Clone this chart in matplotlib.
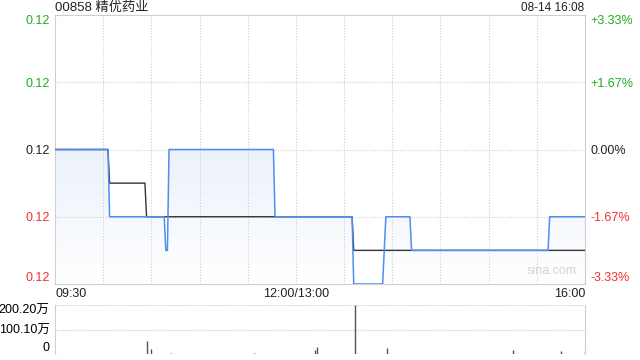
import numpy as np
import matplotlib
matplotlib.use('Agg')
import matplotlib.pyplot as plt
from matplotlib.colors import LinearSegmentedColormap

plt.rcParams['font.family'] = ['Liberation Sans', 'Noto Sans CJK SC', 'DejaVu Sans']

title = '00858 精优药业'
stamp = '08-14 16:08'
prev_close = 0.120

# price (blue) breakpoints: time, price
price_t = ['09:30', '10:03', '10:04', '10:38', '10:39', '10:40', '10:41', '11:46', '11:47',
           '13:35', '13:36', '13:54', '13:56', '14:11', '14:12', '15:37', '15:38', '16:00']
price_v = [0.120, 0.120, 0.118, 0.118, 0.117, 0.117, 0.120, 0.120, 0.118,
           0.118, 0.116, 0.116, 0.118, 0.118, 0.117, 0.117, 0.118, 0.118]

# average price (black) breakpoints
avg_t = ['09:30', '10:03', '10:04', '10:26', '10:27', '13:35', '13:36', '16:00']
avg_v = [0.120, 0.120, 0.119, 0.119, 0.118, 0.118, 0.117, 0.117]

# volume spikes (shares)
vol_t = ['10:27', '10:30', '10:42', '11:34', '13:12', '13:13', '13:37', '13:57', '15:15', '15:45', '16:00']
vol_v = [540000, 200000, 50000, 40000, 160000, 300000, 2002000, 240000, 160000, 120000, 120000]

y_ticks = [0.116, 0.118, 0.120, 0.122, 0.124]
pct_labels = ['-3.33%', '-1.67%', '0.00%', '+1.67%', '+3.33%']
vol_ticks = [0, 1001000, 2002000]
vol_labels = ['0', '100.10万', '200.20万']
x_labels = ['09:30', '12:00/13:00', '16:00']

GREEN = '#1fae1f'
RED = '#f53030'
BLUE = '#4f8ef0'
GRID = '#cfcfcf'
FS = 9


def tidx(s):
    h, m = map(int, s.split(':'))
    mins = h * 60 + m
    if mins <= 12 * 60:
        return mins - (9 * 60 + 30)
    return 150 + mins - 13 * 60


px = np.array([tidx(t) for t in price_t], float)
py = np.array(price_v)
ax_ = np.array([tidx(t) for t in avg_t], float)
vx = np.array([tidx(t) for t in vol_t], float)

fig = plt.figure(figsize=(6.4, 3.6), dpi=100)
ax = fig.add_axes([55 / 640, 1 - 284 / 360, 530 / 640, 269 / 360])
axv = fig.add_axes([55 / 640, 1 - 354 / 360, 530 / 640, 49 / 360])

ax.set_xlim(0, 330)
ax.set_ylim(0.116, 0.124)

# gradient fill under price line
cmap = LinearSegmentedColormap.from_list('g', ['#ffffff', '#d8e4f9'])
grad = np.linspace(0, 1, 256).reshape(-1, 1)
im = ax.imshow(grad, cmap=cmap, aspect='auto', origin='lower',
               extent=[0, 330, 0.116, 0.124], zorder=1)
poly = ax.fill_between(px, py, 0.116, color='none', lw=0)
im.set_clip_path(poly.get_paths()[0], transform=ax.transData)

ax.plot(px, py, color=BLUE, lw=1.1, zorder=4)
ax.plot(ax_, avg_v, color='#333333', lw=1.0, zorder=3)

# grid
for x in np.arange(30, 330, 30):
    ax.axvline(x, color=GRID, lw=0.8, ls=(0, (1, 1.5)), zorder=2)
for y in y_ticks[1:-1]:
    ax.axhline(y, color=GRID, lw=0.8, ls=(0, (1, 1.5)), zorder=2)

for sp in ax.spines.values():
    sp.set_color(GRID)
ax.tick_params(length=0, labelsize=FS, pad=4)
ax.set_yticks(y_ticks)
ax.set_yticklabels([f'{v:.2f}' for v in y_ticks])
colors = [RED, RED, '#222222', GREEN, GREEN]
for lab, c in zip(ax.get_yticklabels(), colors):
    lab.set_color(c)
ax.get_yticklabels()[0].set_va('bottom')
ax.get_yticklabels()[-1].set_va('top')
ax.set_xticks([])

axr = ax.twinx()
axr.set_ylim(0.116, 0.124)
axr.set_yticks(y_ticks)
axr.set_yticklabels(pct_labels)
axr.tick_params(length=0, labelsize=FS, pad=4)
for lab, c in zip(axr.get_yticklabels(), colors):
    lab.set_color(c)
axr.get_yticklabels()[0].set_va('bottom')
axr.get_yticklabels()[-1].set_va('top')
for sp in axr.spines.values():
    sp.set_visible(False)

# x labels under main panel
xt = ax.get_xaxis_transform()
ax.text(0, -0.015, x_labels[0], transform=xt, ha='left', va='top', fontsize=FS, color='#222222')
ax.text(150, -0.015, x_labels[1], transform=xt, ha='center', va='top', fontsize=FS, color='#222222')
ax.text(330, -0.015, x_labels[2], transform=xt, ha='right', va='top', fontsize=FS, color='#222222')

ax.text(0.985, 0.025, 'sina.com', transform=ax.transAxes, ha='right', va='bottom', fontsize=9, color='#d4d4d4')

fig.text(55 / 640, 1 - 8 / 360, title, ha='left', va='center', fontsize=9.5, color='#222222')
fig.text(584 / 640, 1 - 8 / 360, stamp, ha='right', va='center', fontsize=8.5, color='#222222')

# volume panel
axv.set_xlim(0, 330)
axv.set_ylim(0, 2002000)
axv.vlines(vx, 0, vol_v, color='#555555', lw=1.0)
for y in vol_ticks:
    axv.axhline(y, color=GRID, lw=0.9, ls=(0, (1, 1)), zorder=0)
axv.set_yticks(vol_ticks)
axv.set_yticklabels(vol_labels)
axv.tick_params(length=0, labelsize=FS, pad=4)
axv.get_yticklabels()[0].set_va('bottom')
axv.get_yticklabels()[-1].set_va('top')
axv.set_xticks([])
axv.spines['top'].set_visible(False)
axv.spines['bottom'].set_visible(False)
axv.spines['left'].set_color(GRID)
axv.spines['right'].set_color(GRID)

fig.savefig('out.png', dpi=100)
